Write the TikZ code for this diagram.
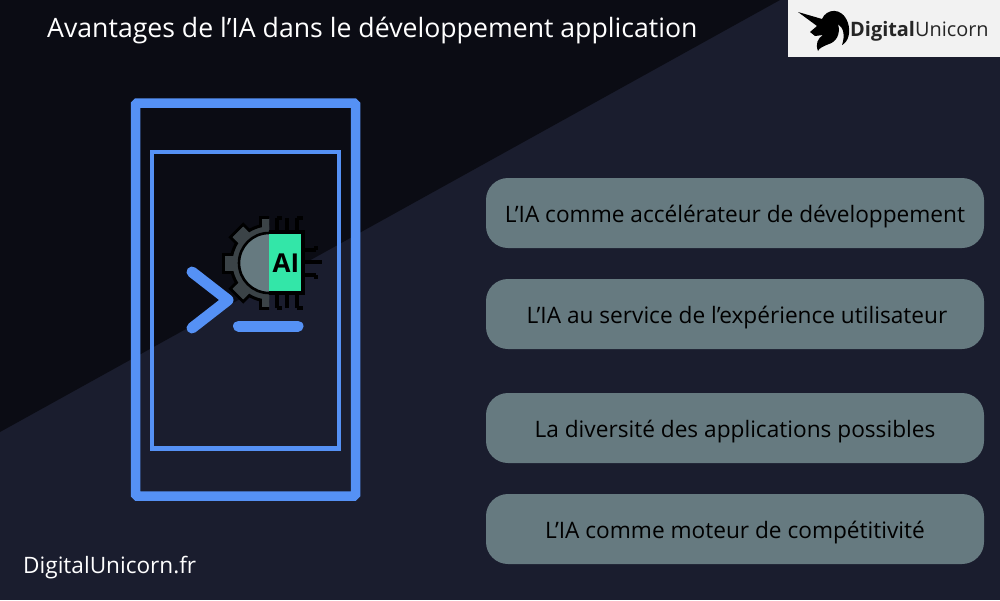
\documentclass[tikz,border=0pt]{standalone}
\usepackage{fontspec}
\setmainfont{Open Sans}
\definecolor{bgdark}{HTML}{0B0C14}
\definecolor{bglight}{HTML}{1A1D2E}
\definecolor{frameblue}{HTML}{5591F5}
\definecolor{boxgrey}{HTML}{667A80}
\definecolor{geardark}{HTML}{3B4347}
\definecolor{chipgreen}{HTML}{33E6A8}
\definecolor{logowhite}{HTML}{F2F2F2}
\tikzset{
  itembox/.style={fill=boxgrey, rounded corners=22pt, minimum width=498pt, minimum height=70pt,
    inner sep=0pt, text=black, text height=18pt, text depth=0pt, font=\fontsize{22.65}{27}\selectfont},
  whitetext/.style={text=white, inner sep=0pt, anchor=base west},
  chipleg/.style={draw=black, line width=3.4pt},
  gearpart/.style={line width=3pt, draw=black, fill=geardark}
}

\begin{document}
\begin{tikzpicture}[x=1pt, y=-1pt]

  \useasboundingbox (0,0) rectangle (1000,600);
  \fill[bglight] (0,0) rectangle (1000,600);
  \fill[bgdark] (0,0) -- (780,0) -- (0,432) -- cycle;

  %% title and footer
  \node[whitetext, font=\fontsize{26.65}{30}\selectfont] (title) at (47,37) {Avantages de l’IA dans le développement application};
  \node[whitetext, font=\fontsize{22.6}{26}\selectfont] (footer) at (23,573) {DigitalUnicorn.fr};

  %% logo
  \fill[logowhite] (788,0) rectangle (1000,57);
  \fill[black] (798,12) -- (822,19) .. controls (826,9) and (842,6) .. (848,23)
    .. controls (851,33) and (848,42) .. (842,45) .. controls (845,36) and (844,28) .. (838,24)
    .. controls (841,34) and (836,42) .. (829,44) .. controls (824,46) and (819,48) .. (818,51)
    .. controls (815,44) and (818,38) .. (823,35) -- (815,36) -- (810,32) -- (817,26) -- cycle;
  \node[whitetext, text=black!85, font=\fontsize{19.9}{24}\selectfont] (logotext) at (850,36) {\textbf{Digital}Unicorn};

  %% phone
  \draw[frameblue, line width=9.5pt, rounded corners=1.5pt] (135.5,103) rectangle (355.5,496);
  \draw[frameblue, line width=4.5pt] (152,152) rectangle (339,448.5);

  %% prompt
  \draw[frameblue, line width=11pt, line cap=round, line join=round] (192,272) -- (228,300) -- (192,328);
  \draw[frameblue, line width=11pt, line cap=round] (238.5,326) -- (298,326);

  %% chip legs
  \foreach \x in {277,287,297}{
    \draw[chipleg] (\x,218) -- (\x,232);
    \draw[chipleg] (\x,293) -- (\x,308);
  }
  \draw[chipleg] (277,218) -- (282,218);
  \draw[chipleg] (297,218) -- (303,218);
  \draw[chipleg] (277,308) -- (282,308);
  \draw[chipleg] (297,308) -- (303,308);
  \foreach \y/\e in {250/316,262/322,275/316}{
    \draw[chipleg] (303,\y) -- (\e,\y);
  }
  \draw[chipleg] (316,250) -- (316,246);
  \draw[chipleg] (316,275) -- (316,279);

  %% half gear
  \begin{scope}
    \clip (200,200) rectangle (269,320);
    \foreach \a in {90,135,180,225,270}{
      \draw[gearpart, rotate around={\a:(269,263)}] (269,254) rectangle (314.5,272);
    }
    \draw[gearpart] (269,263) circle (38);
    \foreach \a in {90,135,180,225,270}{
      \fill[geardark, rotate around={\a:(269,263)}] (269,255.5) rectangle (313,270.5);
    }
    \draw[line width=2.6pt, draw=black, fill=boxgrey] (269,263) circle (30);
  \end{scope}

  %% chip
  \fill[chipgreen] (269,232) rectangle (303,293);
  \draw[line width=3.4pt, draw=black] (269,232) -- (303,232) -- (303,293) -- (269,293);
  \node[inner sep=0pt, text=black, font=\fontsize{26}{30}\bfseries\selectfont] (chiplabel) at (286,263) {AI};

  %% items
  \node[itembox] (itemA) at (735,213) {L’IA comme accélérateur de développement};
  \node[itembox] (itemB) at (735,314) {\hspace{4pt}L’IA au service de l’expérience utilisateur};
  \node[itembox] (itemC) at (735,428) {La diversité des applications possibles};
  \node[itembox] (itemD) at (735,529) {L’IA comme moteur de compétitivité};

\end{tikzpicture}
\end{document}
